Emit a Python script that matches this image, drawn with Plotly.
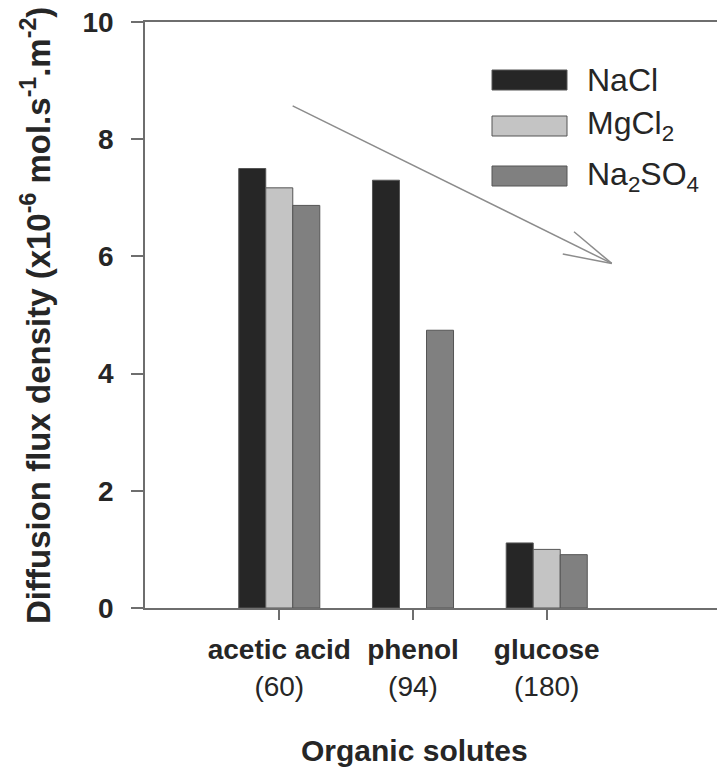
import plotly.graph_objects as go

# ---- data ----
solutes = ["acetic acid", "phenol", "glucose"]
molar_mass = ["60", "94", "180"]
nacl = [7.50, 7.30, 1.11]
mgcl2 = [7.17, None, 1.00]
na2so4 = [6.87, 4.74, 0.91]
y_ticks = [0, 2, 4, 6, 8, 10]

# the page body adds an 8px margin; compensate so the chart lands where the reference has it
OFF = 8
W, H = 725 - OFF, 771 - OFF
ML, MR, MT, MB = 145 - OFF, 0, 22 - OFF, 163
PW, PH = W - ML - MR, H - MT - MB

def px(x):
    return (x - OFF - ML) / PW

def py(y):
    return (H - MB - (y - OFF)) / PH

FONT = "Liberation Sans, Arial, sans-serif"
TXT = "#262626"
AX = "#6e6e6e"
EDGE = "#555555"

series = [
    ("NaCl", nacl, "#262626"),
    ("MgCl<sub>2</sub>", mgcl2, "#c4c4c4"),
    ("Na<sub>2</sub>SO<sub>4</sub>", na2so4, "#808080"),
]

fig = go.Figure()
for name, vals, col in series:
    fig.add_trace(go.Bar(
        x=list(range(len(solutes))), y=vals, name=name,
        marker=dict(color=col, line=dict(color=EDGE, width=1)),
        showlegend=False,
    ))

ticktext = [f"<b>{s}</b><br>({m})" for s, m in zip(solutes, molar_mass)]

fig.update_layout(
    width=W, height=H,
    margin=dict(l=ML, r=MR, t=MT, b=MB),
    paper_bgcolor="white", plot_bgcolor="white",
    barmode="group", bargap=0.394, bargroupgap=0,
    font=dict(family=FONT, color=TXT),
    xaxis=dict(
        range=[-1.004, 3.333],
        tickvals=list(range(len(solutes))), ticktext=ticktext,
        tickfont=dict(size=28, color=TXT),
        showline=True, linecolor=AX, linewidth=1.5, mirror=True,
        ticks="outside", ticklen=10, tickcolor=AX, tickwidth=1.5,
        ticklabelstandoff=6,
        showgrid=False, zeroline=False,
    ),
    yaxis=dict(
        range=[0, 10], tickvals=y_ticks,
        tickfont=dict(size=28, color=TXT, weight="bold"),
        showline=True, linecolor=AX, linewidth=1.5,
        ticks="outside", ticklen=12, tickcolor=AX, tickwidth=1.5,
        ticklabelstandoff=12, ticklabeloverflow="allow",
        showgrid=False, zeroline=False,
    ),
)

# axis titles
fig.add_annotation(
    text="<b>Organic solutes</b>", xref="paper", yref="paper",
    x=px(414), y=py(750), xanchor="center", yanchor="middle",
    showarrow=False, font=dict(size=30, color=TXT, family=FONT),
)
fig.add_annotation(
    text="<b>Diffusion flux density (x10<sup>-6</sup> mol.s<sup>-1</sup>.m<sup>-2</sup>)</b>",
    xref="paper", yref="paper", x=px(36), y=py(316),
    xanchor="center", yanchor="middle", textangle=-90,
    showarrow=False, font=dict(size=33, color=TXT, family=FONT),
)

# manual legend
legend_rows = [70, 116, 166]
for (name, vals, col), top in zip(series, legend_rows):
    fig.add_shape(type="rect", xref="paper", yref="paper",
                  x0=px(492), x1=px(567), y0=py(top + 20), y1=py(top),
                  fillcolor=col, line=dict(color=EDGE, width=1))
    fig.add_annotation(text=name, xref="paper", yref="paper",
                       x=px(585), y=py(top + 10), xanchor="left", yanchor="middle",
                       showarrow=False, font=dict(size=32, color=TXT, family=FONT))

# trend arrow (open head)
ARW = "#8c8c8c"
arrow_start = (0.10, 8.57)
arrow_tip = (2.486, 5.88)
head_a = (2.204, 6.42)
head_b = (2.12, 6.04)
for (x0, y0), (x1, y1) in [(arrow_start, arrow_tip), (head_a, arrow_tip), (head_b, arrow_tip)]:
    fig.add_shape(type="line", xref="x", yref="y", x0=x0, y0=y0, x1=x1, y1=y1,
                  line=dict(color=ARW, width=1.5))

fig.write_html("out.html")
